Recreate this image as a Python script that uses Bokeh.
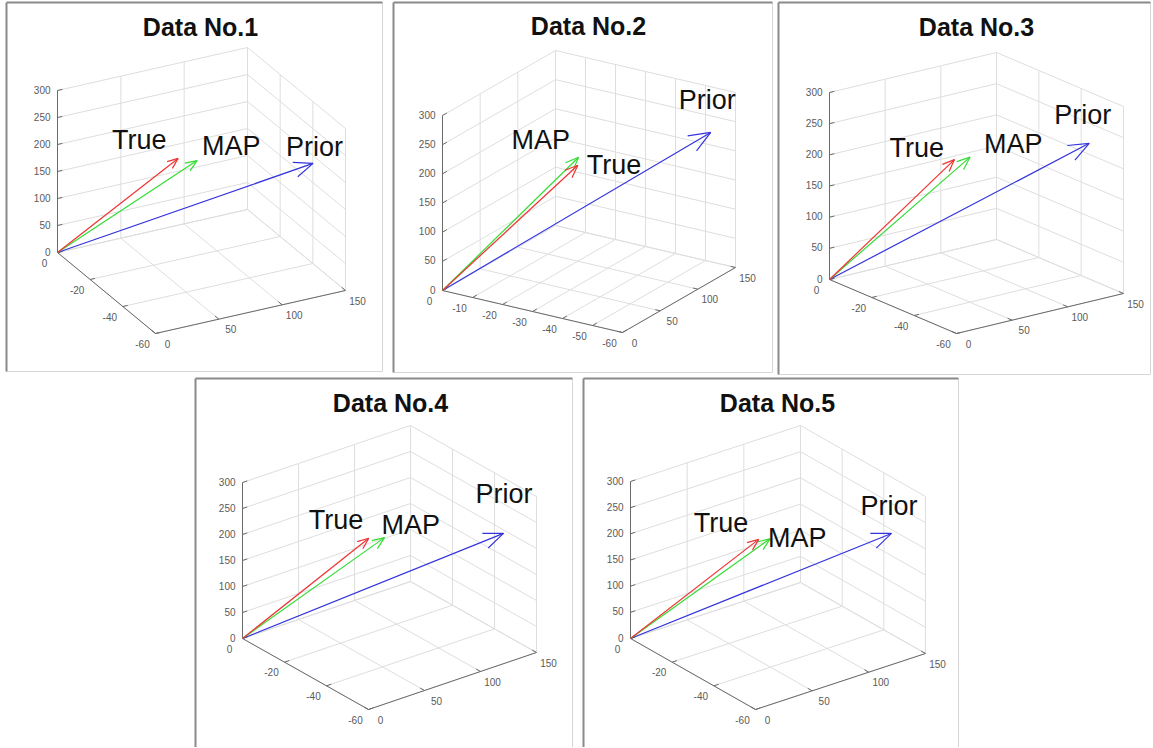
import math
from bokeh.plotting import figure
from bokeh.models import Range1d
from bokeh.embed import file_html
from bokeh.resources import INLINE
from bokeh.core.properties import value

# ---------------- data (3-D vectors) ----------------
titles = ["Data No.1", "Data No.2", "Data No.3", "Data No.4", "Data No.5"]

true_x = [-18, -18, -18, -18, -18]
true_y = [72, 108, 78, 79, 80]
true_z = [181, 156, 185, 176, 173]

map_x = [-18, -18, -18, -18, -18]
map_y = [87, 109, 92, 93, 90]
map_z = [169, 169, 183, 167, 167]

prior_x = [-44, -54, -48, -48, -48]
prior_y = [145, 141, 142, 143, 142]
prior_z = [198, 231, 227, 207, 208]

series_names = ["True", "MAP", "Prior"]

x_ticks_coarse = [0, -20, -40, -60]
x_ticks_fine = [0, -10, -20, -30, -40, -50, -60]
y_ticks = [0, 50, 100, 150]
z_ticks = [0, 50, 100, 150, 200, 250, 300]
x_lim = (0, -60)
y_lim = (0, 150)
z_lim = (0, 300)

# ---------------- layout / view parameters (page pixel frame) ----------------
# box: panel frame; O: projected origin; A,B,C: screen span of x, y, z axes
panels = [
    dict(box=(6, 2, 382, 371), O=(57, 252), A=(98, 81), B=(190, -43), C=(0, -162),
         title=(200, 26), xt=x_ticks_coarse,
         off={"True": (-66, -8), "MAP": (5, -5), "Prior": (-27, -6)}),
    dict(box=(393, 2, 772, 372), O=(442, 290), A=(180, 42), B=(113, -65), C=(0, -175),
         title=(588, 25), xt=x_ticks_fine,
         off={"True": (9, 10), "MAP": (-67, -7), "Prior": (-32, -22)}),
    dict(box=(778, 2, 1150, 374), O=(829, 279), A=(127, 54), B=(167, -40), C=(0, -187),
         title=(976, 26), xt=x_ticks_coarse,
         off={"True": (-65, -2), "MAP": (14, -3), "Prior": (-35, -18)}),
    dict(box=(195, 378, 572, 748), O=(242, 638), A=(126, 71), B=(168, -57), C=(0, -156),
         title=(390, 402), xt=x_ticks_coarse,
         off={"True": (-60, -8), "MAP": (-3, -3), "Prior": (-28, -29)}),
    dict(box=(583, 378, 958, 748), O=(630, 638), A=(125, 71), B=(170, -56), C=(0, -157),
         title=(777, 402), xt=x_ticks_coarse,
         off={"True": (-65, -6), "MAP": (-2, 9), "Prior": (-31, -17)}),
]
LABEL_HALF_CAP = 10  # label positions are baseline offsets; drawn with middle baseline

colors = {"True": "#ee3434", "MAP": "#34dc34", "Prior": "#3434dc"}
GRID = "#dedede"
AXIS = "#6a6a6a"
TICKLBL = "#5a5a5a"
FONT = value("Liberation Sans")

W, H = 1152, 747
p = figure(width=W, height=H, output_backend="svg", toolbar_location=None,
           x_range=Range1d(0, W), y_range=Range1d(H, 0), min_border=0)
p.axis.visible = False
p.grid.visible = False
p.outline_line_color = None
p.background_fill_color = "white"
p.border_fill_color = "white"


def proj(P, x, y, z):
    u = (x - x_lim[0]) / (x_lim[1] - x_lim[0])
    v = (y - y_lim[0]) / (y_lim[1] - y_lim[0])
    w = (z - z_lim[0]) / (z_lim[1] - z_lim[0])
    sx = P["O"][0] + u * P["A"][0] + v * P["B"][0] + w * P["C"][0]
    sy = P["O"][1] + u * P["A"][1] + v * P["B"][1] + w * P["C"][1]
    return sx, sy


def unit(vx, vy):
    n = math.hypot(vx, vy)
    return vx / n, vy / n


vectors = {
    "True": (true_x, true_y, true_z),
    "MAP": (map_x, map_y, map_z),
    "Prior": (prior_x, prior_y, prior_z),
}

for i, P in enumerate(panels):
    # ---- panel frame ----
    x0, y0, x1, y1 = P["box"]
    p.segment(x0=[x1, x0], y0=[y0, y1], x1=[x1, x1], y1=[y1, y1], line_color="#d6d6d6", line_width=1)
    p.segment(x0=[x0, x0], y0=[y0, y0], x1=[x1, x0], y1=[y0, y1], line_color="#8a8a8a", line_width=2)

    xt = P["xt"]
    xa, xb = x_lim
    ya, yb = y_lim
    za, zb = z_lim
    gx0, gy0, gx1, gy1 = [], [], [], []

    def seg(a, b):
        s0 = proj(P, *a)
        s1 = proj(P, *b)
        gx0.append(s0[0]); gy0.append(s0[1]); gx1.append(s1[0]); gy1.append(s1[1])

    # floor z = 0
    for t in xt:
        seg((t, ya, za), (t, yb, za))
    for t in y_ticks:
        seg((xa, t, za), (xb, t, za))
    # back wall x = 0
    for t in y_ticks:
        seg((xa, t, za), (xa, t, zb))
    for t in z_ticks:
        seg((xa, ya, t), (xa, yb, t))
    # back wall y = 150
    for t in xt:
        seg((t, yb, za), (t, yb, zb))
    for t in z_ticks:
        seg((xa, yb, t), (xb, yb, t))
    p.segment(x0=gx0, y0=gy0, x1=gx1, y1=gy1, line_color=GRID, line_width=1)

    # ---- axis lines ----
    ax0, ay0, ax1, ay1 = [], [], [], []
    for a, b in [((xa, ya, za), (xa, ya, zb)), ((xa, ya, za), (xb, ya, za)), ((xb, ya, za), (xb, yb, za))]:
        s0 = proj(P, *a); s1 = proj(P, *b)
        ax0.append(s0[0]); ay0.append(s0[1]); ax1.append(s1[0]); ay1.append(s1[1])
    p.segment(x0=ax0, y0=ay0, x1=ax1, y1=ay1, line_color=AXIS, line_width=1)

    # ---- ticks ----
    bu = unit(*P["B"])
    au = unit(*P["A"])
    tk0x, tk0y, tk1x, tk1y = [], [], [], []
    zl_x, zl_y, zl_t = [], [], []
    for t in z_ticks:
        sx, sy = proj(P, xa, ya, t)
        tk0x.append(sx); tk0y.append(sy); tk1x.append(sx + 5 * bu[0]); tk1y.append(sy + 5 * bu[1])
        zl_x.append(sx - 7); zl_y.append(sy - 1); zl_t.append(str(t))
    xl_x, xl_y, xl_t = [], [], []
    for t in xt:
        sx, sy = proj(P, t, ya, za)
        tk0x.append(sx); tk0y.append(sy); tk1x.append(sx + 5 * bu[0]); tk1y.append(sy + 5 * bu[1])
        xl_x.append(sx - 13); xl_y.append(sy + 10); xl_t.append(str(t))
    yl_x, yl_y, yl_t = [], [], []
    for t in y_ticks:
        sx, sy = proj(P, xb, t, za)
        tk0x.append(sx); tk0y.append(sy); tk1x.append(sx - 5 * au[0]); tk1y.append(sy - 5 * au[1])
        yl_x.append(sx + 12); yl_y.append(sy + 10); yl_t.append(str(t))
    p.segment(x0=tk0x, y0=tk0y, x1=tk1x, y1=tk1y, line_color=AXIS, line_width=1)

    for lx, ly, lt, al in [(zl_x, zl_y, zl_t, "right"), (xl_x, xl_y, xl_t, "center"),
                           (yl_x, yl_y, yl_t, "center")]:
        p.text(x=lx, y=ly, text=lt, text_align=al, text_baseline="middle",
               text_font=FONT, text_font_size="10px", text_color=TICKLBL)

    # ---- arrows ----
    for name in ["Prior", "MAP", "True"]:
        vx, vy, vz = vectors[name]
        ox, oy = proj(P, 0, 0, 0)
        tx, ty = proj(P, vx[i], vy[i], vz[i])
        dx, dy = tx - ox, ty - oy
        L = math.hypot(dx, dy)
        ux, uy = dx / L, dy / L
        h = 0.075 * L
        ang = math.radians(22)
        wings = []
        for s in (1, -1):
            c, sn = math.cos(s * ang), math.sin(s * ang)
            rx = ux * c - uy * sn
            ry = ux * sn + uy * c
            wings.append((tx - h * rx, ty - h * ry))
        p.segment(x0=[ox, tx, tx], y0=[oy, ty, ty],
                  x1=[tx, wings[0][0], wings[1][0]], y1=[ty, wings[0][1], wings[1][1]],
                  line_color=colors[name], line_width=1.2)
        offx, offy = P["off"][name]
        p.text(x=[tx + offx], y=[ty + offy - LABEL_HALF_CAP], text=[name], text_align="left",
               text_baseline="middle", text_font=FONT, text_font_size="27px",
               text_color="#111111")

    # ---- title ----
    p.text(x=[P["title"][0]], y=[P["title"][1]], text=[titles[i]], text_align="center",
           text_baseline="middle", text_font=FONT, text_font_size="25px",
           text_font_style="bold", text_color="#111111")

open("out.html", "w").write(file_html(p, INLINE))
